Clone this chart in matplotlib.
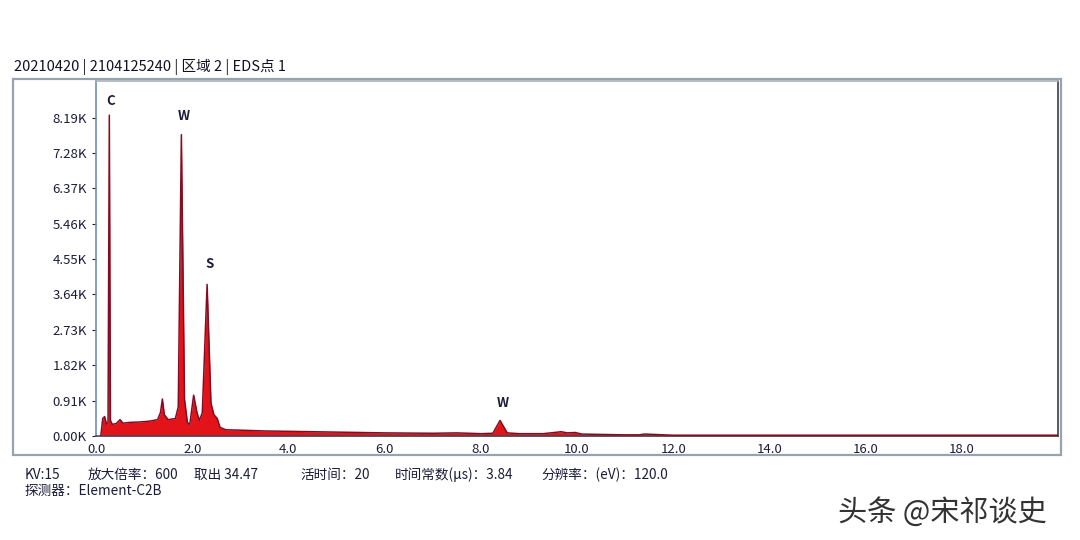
import matplotlib
matplotlib.use("Agg")
import matplotlib.pyplot as plt
from matplotlib.patches import Rectangle

plt.rcParams['font.family'] = ['Noto Sans CJK SC', 'DejaVu Sans']

# ---- data ----
energy_kev = [0.10, 0.14, 0.18, 0.22, 0.25, 0.277, 0.30, 0.34, 0.42, 0.50, 0.56, 0.70, 0.90,
              1.10, 1.28, 1.34, 1.38, 1.42, 1.50, 1.65, 1.71, 1.775, 1.84, 1.90, 1.95,
              2.03, 2.10, 2.15, 2.21, 2.31, 2.39, 2.45, 2.52, 2.58, 2.70, 3.0, 3.5, 4.0,
              5.0, 6.0, 7.0, 7.5, 8.0, 8.25, 8.40, 8.55, 8.8, 9.3, 9.6, 9.67, 9.8, 9.96,
              10.1, 10.5, 11.0, 11.3, 11.4, 12.0, 14.0, 16.0, 18.0, 20.0]
counts_k = [0.00, 0.45, 0.50, 0.30, 0.35, 8.25, 0.40, 0.30, 0.32, 0.42, 0.33, 0.35, 0.36,
            0.38, 0.42, 0.60, 0.95, 0.55, 0.42, 0.45, 0.75, 7.75, 0.95, 0.35, 0.30,
            1.05, 0.60, 0.40, 0.60, 3.90, 0.85, 0.55, 0.45, 0.22, 0.16, 0.15, 0.13, 0.12,
            0.10, 0.08, 0.07, 0.08, 0.06, 0.07, 0.40, 0.08, 0.06, 0.06, 0.10, 0.11, 0.08, 0.09,
            0.05, 0.04, 0.03, 0.03, 0.05, 0.02, 0.02, 0.02, 0.02, 0.02]

ytick_vals = [0.0, 0.91, 1.82, 2.73, 3.64, 4.55, 5.46, 6.37, 7.28, 8.19]
ytick_labels = ["0.00K", "0.91K", "1.82K", "2.73K", "3.64K", "4.55K", "5.46K", "6.37K", "7.28K", "8.19K"]
xtick_vals = [0, 2, 4, 6, 8, 10, 12, 14, 16, 18]
xtick_labels = ["0.0", "2.0", "4.0", "6.0", "8.0", "10.0", "12.0", "14.0", "16.0", "18.0"]

peak_labels = ["C", "W", "S", "W"]
peak_pos = [(0.31, 8.62), (1.83, 8.22), (2.35, 4.42), (8.45, 0.85)]

title_text = "20210420 | 2104125240 | 区域 2 | EDS点 1"
info_items = ["KV:15", "放大倍率：600", "取出 34.47", "活时间：20", "时间常数(μs)：3.84", "分辨率：(eV)：120.0"]
info_x = [25, 88, 194, 300, 395, 541]
detector_text = "探测器：Element-C2B"
watermark = "头条 @宋祁谈史"

W, H = 1080, 540
fig = plt.figure(figsize=(W / 100, H / 100), dpi=100)
fig.patch.set_facecolor("white")

def fx(px):
    return px / W

def fy(py):
    return 1 - py / H

# outer frame
fig.patches.append(Rectangle((fx(13), fy(455)), fx(1061) - fx(13), fy(79) - fy(455),
                             transform=fig.transFigure, fill=False,
                             edgecolor="#9aa3ad", linewidth=1.6))

ax = fig.add_axes([fx(96), fy(436), fx(1058) - fx(96), fy(81) - fy(436)])
ax.set_facecolor("white")
ax.fill_between(energy_kev, 0, counts_k, color="#e2141a", linewidth=0, zorder=2)
ax.plot(energy_kev, counts_k, color="#860b22", linewidth=1.1, zorder=3)
ax.set_xlim(0, 20)
ax.set_ylim(0, 9.13)
ax.set_xticks(xtick_vals)
ax.set_xticklabels(xtick_labels)
ax.set_yticks(ytick_vals)
ax.set_yticklabels(ytick_labels)
ax.tick_params(axis="both", labelsize=9.5, colors="#1c1c3a", length=3, width=0.8)
ax.tick_params(axis="x", length=0, pad=5)
for side, col in [("left", "#6f8fb8"), ("bottom", "#444a55"), ("top", "#aab2bb"), ("right", "#3a3f48")]:
    ax.spines[side].set_color(col)
    ax.spines[side].set_linewidth(1.2)

for lab, (x, y) in zip(peak_labels, peak_pos):
    ax.text(x, y, lab, ha="center", va="center", fontsize=9.5, fontweight="bold", color="#1c1c3a")

fig.text(fx(14), fy(67), title_text, fontsize=10.5, color="#111122", va="center", ha="left")
for t, x in zip(info_items, info_x):
    fig.text(fx(x), fy(475), t, fontsize=9.8, color="#1c1c3a", va="center", ha="left")
fig.text(fx(25), fy(491), detector_text, fontsize=9.8, color="#1c1c3a", va="center", ha="left")
fig.text(fx(838), fy(513), watermark, fontsize=21, color="#333333", va="center", ha="left")

fig.savefig("out.png", dpi=100, facecolor="white")
